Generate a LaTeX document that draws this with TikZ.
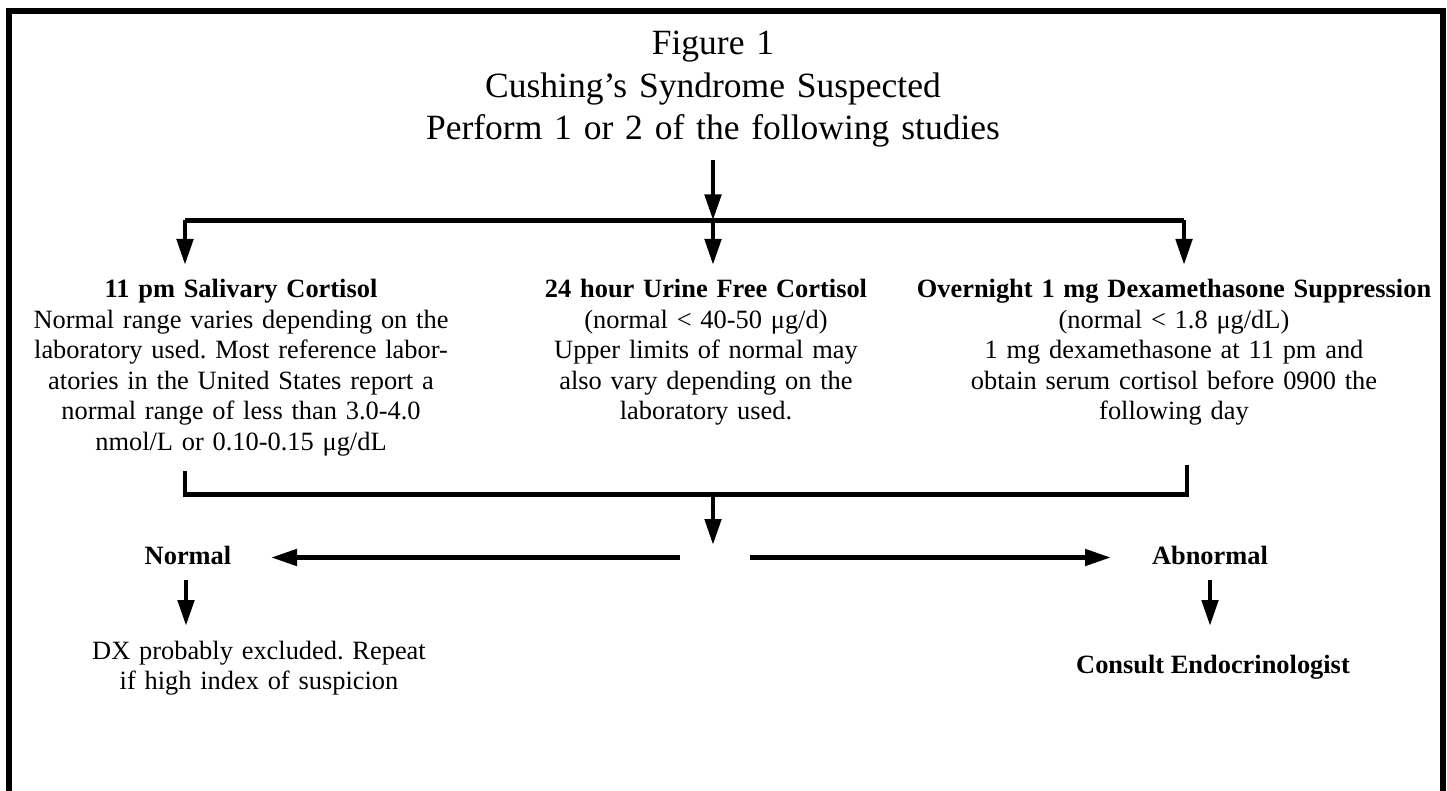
\documentclass[tikz,border=0pt]{standalone}
\usepackage{fontspec}
\setmainfont{Liberation Serif}
\usetikzlibrary{arrows.meta}
\frenchspacing
\tikzset{
  ln/.style={line width=4.8pt, line cap=butt, line join=miter},
  arr/.style={ln, -{Triangle[length=26pt,width=16pt]}},
  body/.style={inner sep=0pt, anchor=base, align=center,
    font=\fontsize{26.4pt}{30.5pt}\selectfont},
  ttl/.style={inner sep=0pt, anchor=base, align=center, text width=800pt,
    font=\fontsize{35.5pt}{42.5pt}\selectfont},
}
\begin{document}
\begin{tikzpicture}[x=1pt,y=-1pt]
\useasboundingbox (0,0) rectangle (1447,791);
% frame (open at the bottom)
\draw[line width=6pt, line join=miter] (9,791) -- (9,11) -- (1443,11) -- (1443,791);

% title
\node[ttl] (title) at (713,55) {Figure 1\\Cushing’s Syndrome Suspected\\Perform 1 or 2 of the following studies};

% study blocks
\node[body, text width=420pt] (sal) at (241,298) {\textbf{11 pm Salivary Cortisol}\\Normal range varies depending on the\\laboratory used. Most reference labor-\\atories in the United States report a\\normal range of less than 3.0-4.0\\nmol/L or 0.10-0.15 μg/dL};
\node[body, text width=330pt] (ufc) at (706,298) {\textbf{24 hour Urine Free Cortisol}\\(normal < 40-50 μg/d)\\Upper limits of normal may\\also vary depending on the\\laboratory used.};
\node[body, text width=520pt] (dex) at (1174,298) {\textbf{Overnight 1 mg Dexamethasone Suppression}\\(normal < 1.8 μg/dL)\\1 mg dexamethasone at 11 pm and\\obtain serum cortisol before 0900 the\\following day};

% outcomes
\node[body] (normal) at (188,564) {\textbf{Normal}};
\node[body] (abnormal) at (1210,564) {\textbf{Abnormal}};
\node[body, text width=360pt] (excl) at (259,659) {DX probably excluded. Repeat\\if high index of suspicion};
\node[body] (consult) at (1213,673) {\textbf{Consult Endocrinologist}};

% junction coordinates
\coordinate (t0) at (713,160);
\coordinate (b1) at (713,220.5);
\coordinate (b1L) at (185,220.5);
\coordinate (b1R) at (1184,220.5);
\coordinate (salT) at (185,265);
\coordinate (ufcT) at (713,265);
\coordinate (dexT) at (1184,265);
\coordinate (salB) at (185,471);
\coordinate (dexB) at (1187,465);
\coordinate (b2) at (713,494.5);
\coordinate (split) at (713,545);
\coordinate (lS) at (680,557.5);
\coordinate (lE) at (271,557.5);
\coordinate (rS) at (750,557.5);
\coordinate (rE) at (1111,557.5);
\coordinate (nA) at (186,580);
\coordinate (nB) at (186,626);
\coordinate (aA) at (1210,580);
\coordinate (aB) at (1210,626);

% connectors
\draw[arr] (t0) -- (b1);
\draw[ln] (b1L) -- (b1R);
\draw[arr] (b1L) -- (salT);
\draw[arr] (b1) -- (ufcT);
\draw[arr] (b1R) -- (dexT);
\draw[ln] (salB) -- (salB |- b2) -- (dexB |- b2) -- (dexB);
\draw[arr] (b2) -- (split);
\draw[arr] (lS) -- (lE);
\draw[arr] (rS) -- (rE);
\draw[arr] (nA) -- (nB);
\draw[arr] (aA) -- (aB);
\end{tikzpicture}
\end{document}
